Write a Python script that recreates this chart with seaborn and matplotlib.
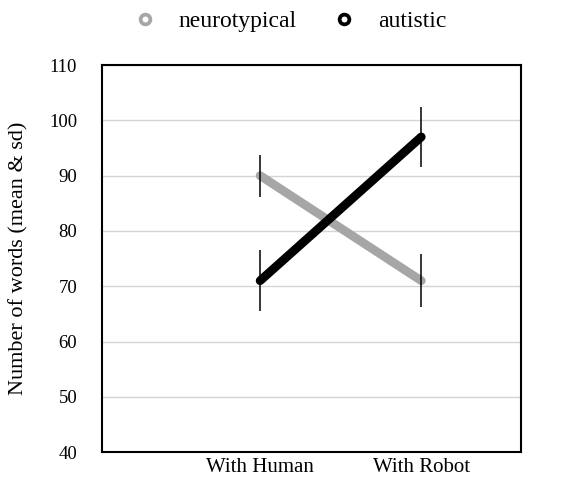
import pandas as pd
import seaborn as sns
from matplotlib import pyplot as plt
from matplotlib.lines import Line2D

conditions = ["With Human", "With Robot"]
neurotypical_mean = [90, 71]
neurotypical_sd = [3.8, 4.8]
autistic_mean = [71, 97]
autistic_sd = [5.5, 5.4]

groups = ["neurotypical", "autistic"]
colors = {"neurotypical": "#a6a6a6", "autistic": "#000000"}

data = pd.DataFrame({
    "condition": conditions * 2,
    "group": ["neurotypical"] * 2 + ["autistic"] * 2,
    "words": neurotypical_mean + autistic_mean,
    "sd": neurotypical_sd + autistic_sd,
})

sns.set_style("white")
plt.rcParams["font.family"] = ["Liberation Serif", "DejaVu Serif"]
plt.rcParams["text.color"] = "black"
plt.rcParams["axes.labelcolor"] = "black"
plt.rcParams["xtick.color"] = "black"
plt.rcParams["ytick.color"] = "black"

fig = plt.figure(figsize=(5.74, 4.78), dpi=100)
ax = fig.add_axes([0.178, 0.054, 0.730, 0.810])

sns.lineplot(data=data, x="condition", y="words", hue="group", hue_order=groups,
             palette=colors, linewidth=6.3, solid_capstyle="round", legend=False,
             ax=ax, zorder=3)

# sd bars on top of the lines
for g in groups:
    sub = data[data["group"] == g]
    ax.errorbar(sub["condition"], sub["words"], yerr=sub["sd"], fmt="none",
                ecolor="black", elinewidth=1.1, capsize=0, zorder=4)

ax.set_xlim(-0.98, 1.62)
ax.set_ylim(40, 110)
ax.set_yticks(range(40, 111, 10))
ax.yaxis.grid(True, color="#d4d4d4", linewidth=1)
ax.set_axisbelow(True)
ax.set_xlabel("")
ax.set_ylabel("Number of words (mean & sd)", fontsize=16)
ax.yaxis.set_label_coords(-0.177, 0.5)
ax.tick_params(axis="x", labelsize=15, length=0, pad=4)
ax.tick_params(axis="y", labelsize=13.5, length=0, pad=18)
for s in ax.spines.values():
    s.set_color("black")
    s.set_linewidth(1.5)

handles = [Line2D([], [], marker="o", linestyle="none", markersize=7,
                  markerfacecolor="white", markeredgecolor=colors[g],
                  markeredgewidth=2.7) for g in groups]
fig.legend(handles, groups, loc="center", ncol=2, frameon=False,
           bbox_to_anchor=(0.505, 0.955), fontsize=17, columnspacing=1.5,
           handlelength=1.0, handletextpad=0.95)

fig.savefig("out.png", dpi=100)
